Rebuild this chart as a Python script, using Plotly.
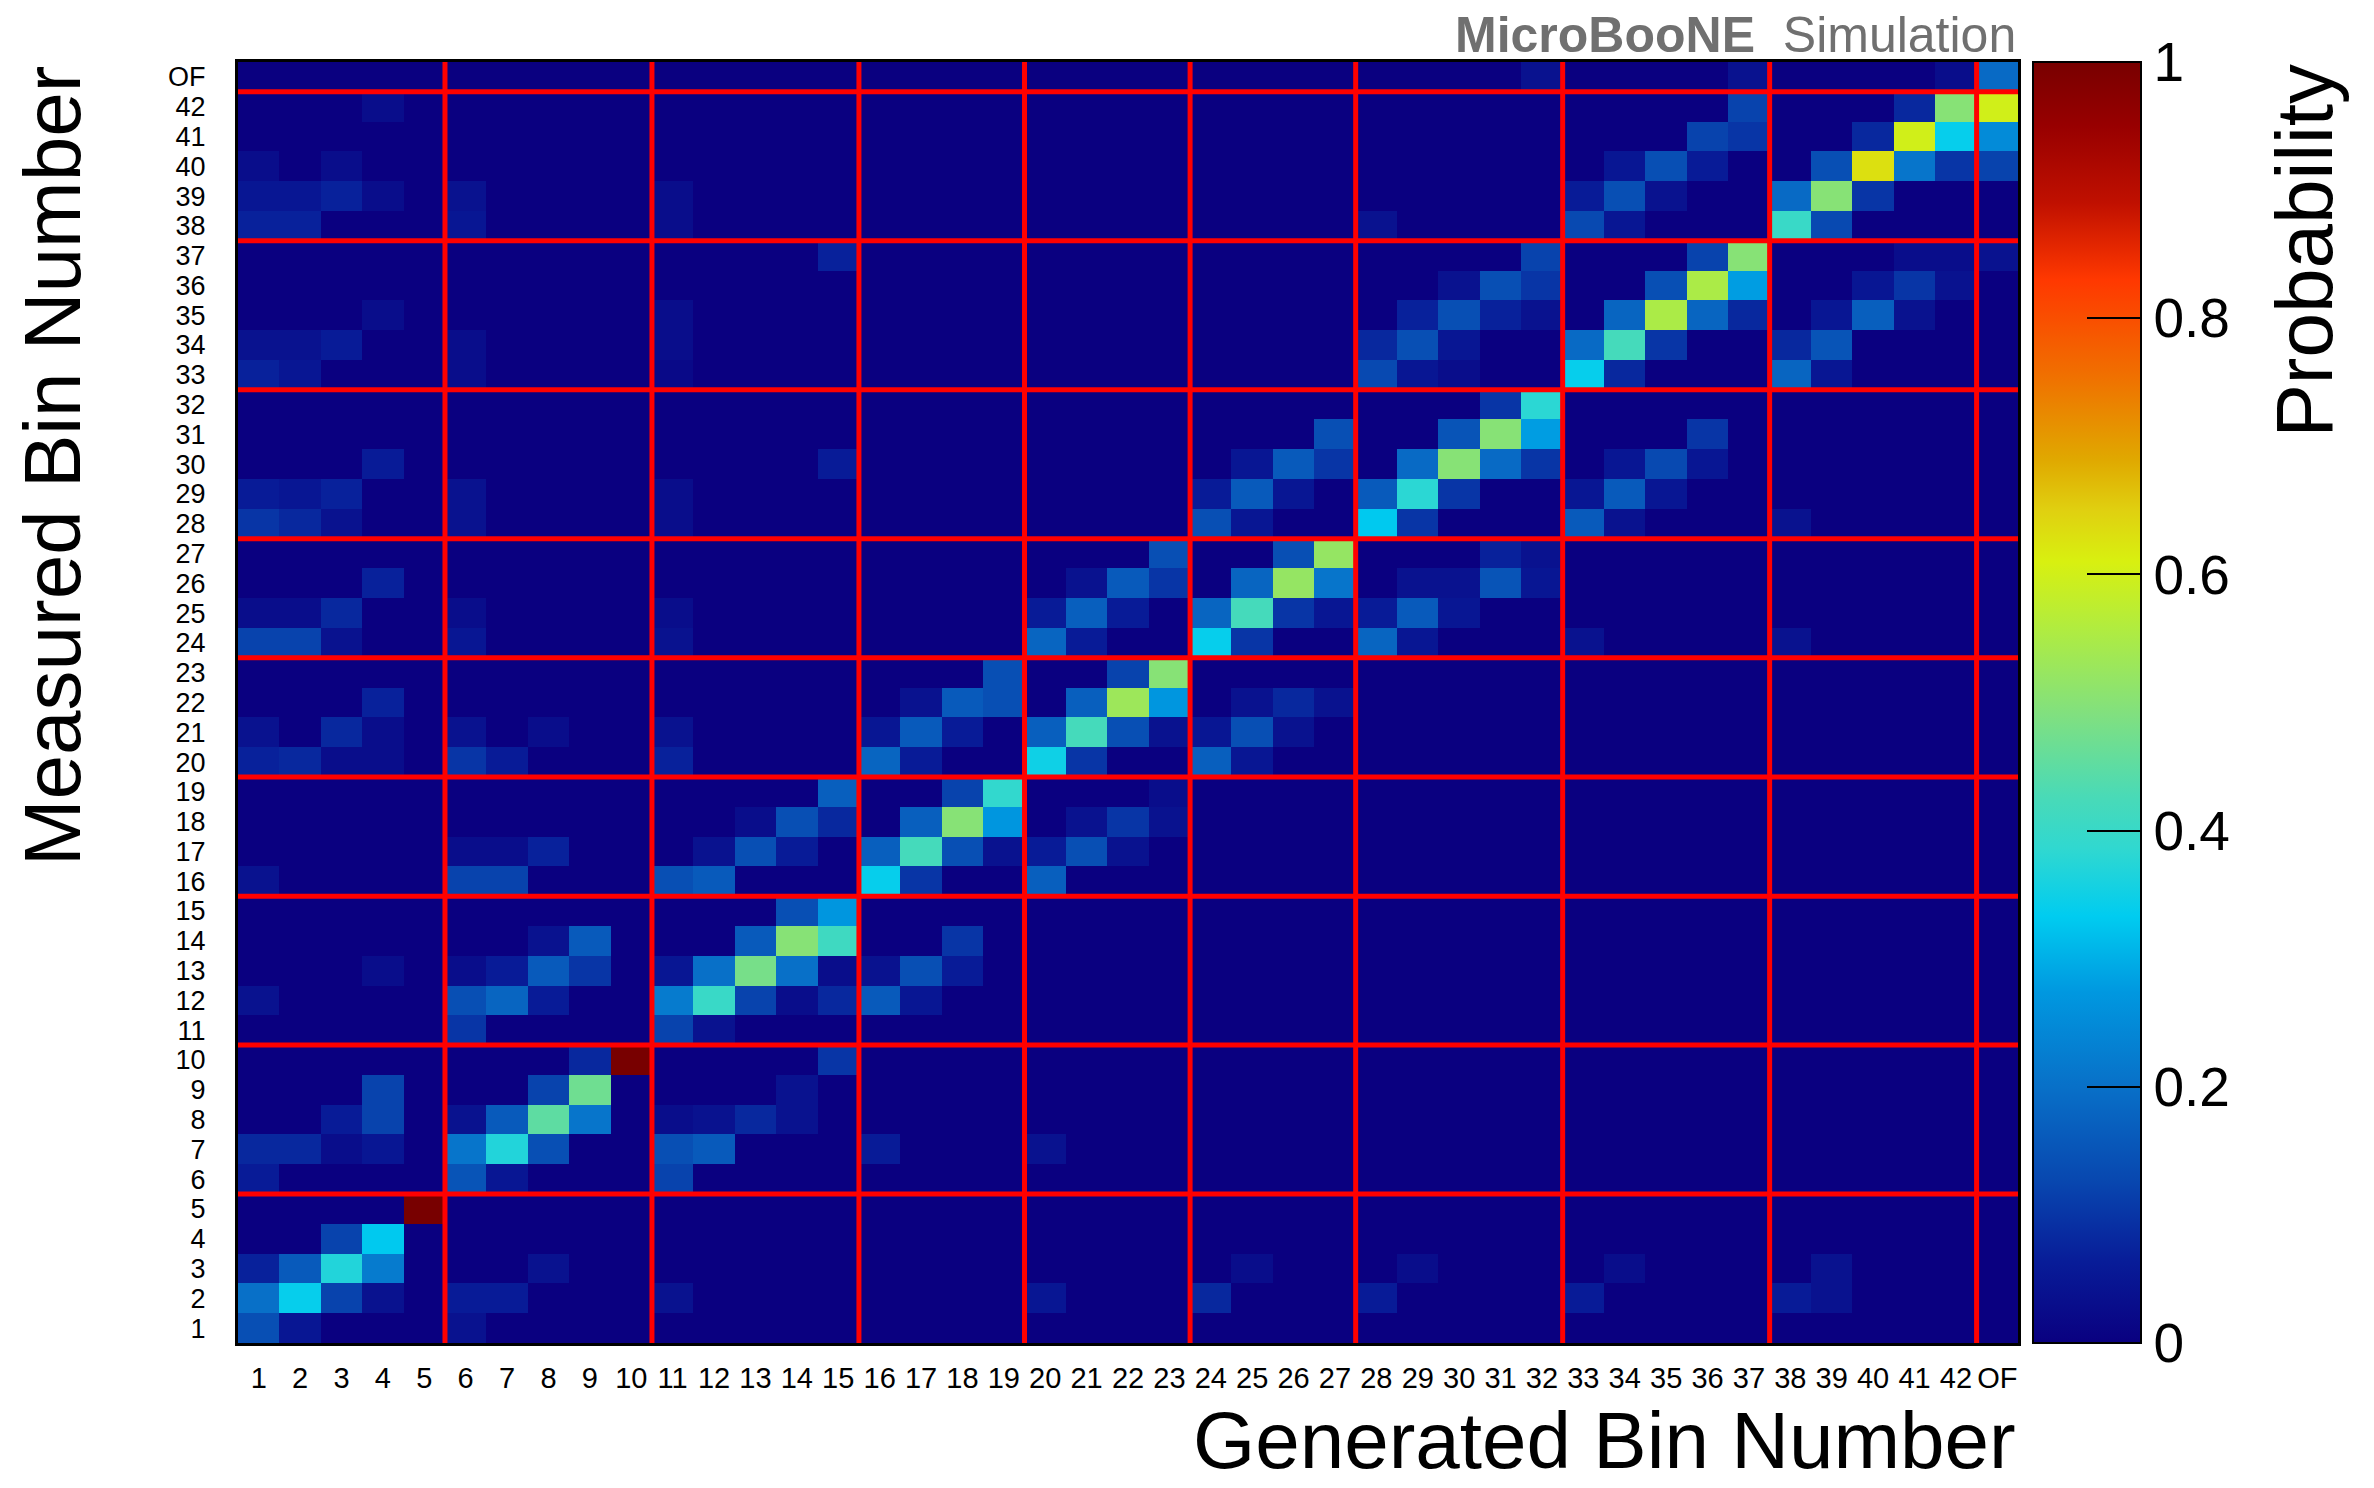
import plotly.graph_objects as go

# ---------------- data ----------------
bin_labels = ["1", "2", "3", "4", "5", "6", "7", "8", "9", "10",
              "11", "12", "13", "14", "15", "16", "17", "18", "19", "20",
              "21", "22", "23", "24", "25", "26", "27", "28", "29", "30",
              "31", "32", "33", "34", "35", "36", "37", "38", "39", "40",
              "41", "42", "OF"]

# block boundaries (red lines) between generated / measured bins
block_edges = [5.5, 10.5, 15.5, 19.5, 23.5, 27.5, 32.5, 37.5, 42.5]

# non-zero cells, one entry per measured bin (1 ... 42, OF)
generated_by_row = [
    [1, 2, 6],                                              # 1
    [1, 2, 3, 4, 6, 7, 11, 20, 24, 28, 33, 38, 39],         # 2
    [1, 2, 3, 4, 8, 25, 29, 34, 39],                        # 3
    [3, 4],                                                 # 4
    [5],                                                    # 5
    [1, 6, 7, 11],                                          # 6
    [1, 2, 3, 4, 6, 7, 8, 11, 12, 16, 20],                  # 7
    [3, 4, 6, 7, 8, 9, 11, 12, 13, 14],                     # 8
    [4, 8, 9, 14],                                          # 9
    [9, 10, 15],                                            # 10
    [6, 11, 12],                                            # 11
    [1, 6, 7, 8, 11, 12, 13, 14, 15, 16, 17],               # 12
    [4, 6, 7, 8, 9, 11, 12, 13, 14, 15, 16, 17, 18],        # 13
    [8, 9, 13, 14, 15, 18],                                 # 14
    [14, 15],                                               # 15
    [1, 6, 7, 11, 12, 16, 17, 20],                          # 16
    [6, 7, 8, 12, 13, 14, 16, 17, 18, 19, 20, 21, 22],      # 17
    [13, 14, 15, 17, 18, 19, 21, 22, 23],                   # 18
    [15, 18, 19, 23],                                       # 19
    [1, 2, 3, 4, 6, 7, 11, 16, 17, 20, 21, 24, 25],         # 20
    [1, 3, 4, 6, 8, 11, 16, 17, 18, 20, 21, 22, 23, 24, 25, 26],  # 21
    [4, 17, 18, 19, 21, 22, 23, 25, 26, 27],                # 22
    [19, 22, 23],                                           # 23
    [1, 2, 3, 6, 11, 20, 21, 24, 25, 28, 29, 33, 38],       # 24
    [1, 2, 3, 6, 11, 20, 21, 22, 24, 25, 26, 27, 28, 29, 30],  # 25
    [4, 21, 22, 23, 25, 26, 27, 29, 30, 31, 32],            # 26
    [23, 26, 27, 31, 32],                                   # 27
    [1, 2, 3, 6, 11, 24, 25, 28, 29, 33, 34, 38],           # 28
    [1, 2, 3, 6, 11, 24, 25, 26, 28, 29, 30, 33, 34, 35],   # 29
    [4, 15, 25, 26, 27, 29, 30, 31, 32, 34, 35, 36],        # 30
    [27, 30, 31, 32, 36],                                   # 31
    [31, 32],                                               # 32
    [1, 2, 6, 11, 28, 29, 30, 33, 34, 38, 39],              # 33
    [1, 2, 3, 6, 11, 28, 29, 30, 33, 34, 35, 38, 39],       # 34
    [4, 11, 29, 30, 31, 32, 34, 35, 36, 37, 39, 40, 41],    # 35
    [30, 31, 32, 35, 36, 37, 40, 41, 42],                   # 36
    [15, 32, 36, 37, 41, 42, 43],                           # 37
    [1, 2, 6, 11, 28, 33, 34, 38, 39],                      # 38
    [1, 2, 3, 4, 6, 11, 33, 34, 35, 38, 39, 40],            # 39
    [1, 3, 34, 35, 36, 39, 40, 41, 42, 43],                 # 40
    [36, 37, 40, 41, 42, 43],                               # 41
    [4, 37, 41, 42, 43],                                    # 42
    [32, 37, 42, 43],                                       # OF
]

probability_by_row = [
    [0.14, 0.05, 0.04],
    [0.20, 0.34, 0.12, 0.04, 0.06, 0.06, 0.04, 0.05, 0.08, 0.06, 0.06, 0.06, 0.04],
    [0.07, 0.16, 0.37, 0.22, 0.04, 0.03, 0.03, 0.03, 0.04],
    [0.12, 0.33],
    [1.0],
    [0.06, 0.15, 0.05, 0.12],
    [0.08, 0.08, 0.03, 0.05, 0.21, 0.37, 0.14, 0.14, 0.16, 0.06, 0.04],
    [0.06, 0.12, 0.04, 0.16, 0.45, 0.21, 0.03, 0.04, 0.08, 0.04],
    [0.12, 0.12, 0.47, 0.04],
    [0.08, 1.0, 0.10],
    [0.10, 0.12, 0.04],
    [0.04, 0.14, 0.18, 0.06, 0.22, 0.40, 0.12, 0.03, 0.08, 0.16, 0.05],
    [0.03, 0.03, 0.06, 0.16, 0.10, 0.05, 0.20, 0.48, 0.20, 0.03, 0.04, 0.14, 0.06],
    [0.04, 0.16, 0.16, 0.50, 0.41, 0.10],
    [0.14, 0.27],
    [0.04, 0.12, 0.12, 0.14, 0.16, 0.34, 0.10, 0.17],
    [0.03, 0.03, 0.07, 0.04, 0.14, 0.06, 0.17, 0.42, 0.14, 0.04, 0.06, 0.14, 0.04],
    [0.03, 0.14, 0.08, 0.17, 0.50, 0.27, 0.04, 0.10, 0.04],
    [0.17, 0.12, 0.39, 0.03],
    [0.07, 0.08, 0.03, 0.03, 0.10, 0.06, 0.07, 0.18, 0.06, 0.35, 0.10, 0.17, 0.05],
    [0.04, 0.08, 0.03, 0.04, 0.03, 0.04, 0.05, 0.16, 0.06, 0.17, 0.42, 0.14, 0.04, 0.05, 0.14, 0.04],
    [0.07, 0.04, 0.16, 0.14, 0.17, 0.53, 0.27, 0.04, 0.08, 0.04],
    [0.14, 0.12, 0.50],
    [0.12, 0.12, 0.04, 0.05, 0.04, 0.18, 0.06, 0.34, 0.10, 0.18, 0.05, 0.04, 0.04],
    [0.03, 0.03, 0.08, 0.03, 0.03, 0.06, 0.17, 0.06, 0.18, 0.42, 0.10, 0.05, 0.06, 0.16, 0.05],
    [0.07, 0.04, 0.16, 0.10, 0.18, 0.52, 0.21, 0.04, 0.04, 0.15, 0.05],
    [0.14, 0.14, 0.52, 0.07, 0.04],
    [0.10, 0.08, 0.04, 0.04, 0.03, 0.14, 0.05, 0.33, 0.10, 0.16, 0.04, 0.04],
    [0.06, 0.05, 0.07, 0.04, 0.03, 0.06, 0.16, 0.05, 0.16, 0.38, 0.10, 0.05, 0.16, 0.05],
    [0.06, 0.06, 0.05, 0.16, 0.10, 0.19, 0.50, 0.19, 0.10, 0.05, 0.13, 0.05],
    [0.14, 0.15, 0.50, 0.28, 0.10],
    [0.10, 0.38],
    [0.07, 0.05, 0.03, 0.02, 0.13, 0.05, 0.03, 0.34, 0.08, 0.18, 0.05],
    [0.04, 0.04, 0.06, 0.03, 0.03, 0.08, 0.14, 0.05, 0.19, 0.42, 0.10, 0.08, 0.15],
    [0.03, 0.03, 0.07, 0.14, 0.07, 0.04, 0.18, 0.55, 0.18, 0.08, 0.05, 0.17, 0.04],
    [0.04, 0.14, 0.10, 0.14, 0.55, 0.28, 0.05, 0.10, 0.04],
    [0.07, 0.12, 0.12, 0.50, 0.03, 0.03, 0.04],
    [0.07, 0.07, 0.05, 0.03, 0.04, 0.13, 0.05, 0.40, 0.13],
    [0.05, 0.05, 0.07, 0.03, 0.04, 0.03, 0.06, 0.14, 0.04, 0.19, 0.50, 0.10],
    [0.03, 0.03, 0.05, 0.14, 0.06, 0.14, 0.63, 0.21, 0.10, 0.12],
    [0.12, 0.10, 0.08, 0.60, 0.34, 0.25],
    [0.03, 0.12, 0.08, 0.50, 0.60],
    [0.04, 0.04, 0.03, 0.19],
]

colorbar_tickvals = [0, 0.2, 0.4, 0.6, 0.8, 1.0]
colorbar_ticktext = ["0", "0.2", "0.4", "0.6", "0.8", "1"]

# ---------------- build matrix ----------------
n_bins = len(bin_labels)
bin_positions = list(range(1, n_bins + 1))
z = [[0.0] * n_bins for _ in range(n_bins)]
for r, (gens, probs) in enumerate(zip(generated_by_row, probability_by_row)):
    assert len(gens) == len(probs), r
    for g, p in zip(gens, probs):
        z[r][g - 1] = p

# ROOT-like rainbow palette
colorscale = [
    [0.000, "rgb(10,0,128)"],
    [0.063, "rgb(8,28,152)"],
    [0.128, "rgb(8,72,176)"],
    [0.200, "rgb(8,112,200)"],
    [0.274, "rgb(0,152,224)"],
    [0.333, "rgb(0,204,240)"],
    [0.386, "rgb(48,216,208)"],
    [0.425, "rgb(72,218,184)"],
    [0.490, "rgb(128,224,128)"],
    [0.557, "rgb(176,236,64)"],
    [0.610, "rgb(216,240,16)"],
    [0.650, "rgb(224,208,16)"],
    [0.690, "rgb(224,168,0)"],
    [0.755, "rgb(240,112,0)"],
    [0.830, "rgb(255,56,0)"],
    [0.890, "rgb(192,16,0)"],
    [0.950, "rgb(152,0,0)"],
    [1.000, "rgb(120,0,0)"],
]

FONT = "Liberation Sans, Arial, Helvetica, sans-serif"

fig = go.Figure(
    go.Heatmap(
        z=z,
        x=bin_positions,
        y=bin_positions,
        zmin=0,
        zmax=1,
        colorscale=colorscale,
        xgap=0,
        ygap=0,
        colorbar=dict(
            x=1.0084,
            xanchor="left",
            y=0.5,
            yanchor="middle",
            len=1.0,
            lenmode="fraction",
            thickness=108,
            thicknessmode="pixels",
            xpad=0,
            ypad=0,
            outlinewidth=2,
            outlinecolor="black",
            ticks="inside",
            ticklen=55,
            tickwidth=2,
            tickcolor="black",
            tickvals=colorbar_tickvals,
            ticktext=colorbar_ticktext,
            tickfont=dict(size=55, color="black", family=FONT),
        ),
        hovertemplate="gen %{x}<br>meas %{y}<br>%{z}<extra></extra>",
    )
)

shapes = []
for e in block_edges:
    shapes.append(dict(type="line", xref="x", yref="y", x0=e, x1=e, y0=0.5, y1=n_bins + 0.5,
                       line=dict(color="#ff0000", width=5), layer="above"))
    shapes.append(dict(type="line", xref="x", yref="y", x0=0.5, x1=n_bins + 0.5, y0=e, y1=e,
                       line=dict(color="#ff0000", width=5), layer="above"))

axis_common = dict(
    range=[0.5, n_bins + 0.5],
    tickvals=bin_positions,
    ticktext=bin_labels,
    tickangle=0,
    showgrid=False,
    zeroline=False,
    showline=True,
    mirror=True,
    linecolor="black",
    linewidth=3,
    ticks="",
)

fig.update_layout(
    width=2374,
    height=1488,
    margin=dict(l=238, r=356, t=62, b=145),
    paper_bgcolor="white",
    plot_bgcolor="white",
    font=dict(family=FONT, color="black"),
    xaxis=dict(axis_common, ticklabelstandoff=7,
               tickfont=dict(size=29, color="black", family=FONT)),
    yaxis=dict(axis_common, ticklabelstandoff=24,
               tickfont=dict(size=27, color="black", family=FONT)),
    shapes=shapes,
    annotations=[
        dict(text="Generated Bin Number", xref="paper", yref="paper", x=1.0, y=-0.1125,
             xanchor="right", yanchor="bottom", showarrow=False,
             font=dict(size=80, color="black", family=FONT)),
        dict(text="Measured Bin Number", xref="paper", yref="paper", x=-0.1045, y=0.6846,
             xanchor="center", yanchor="middle", textangle=-90, showarrow=False,
             font=dict(size=80, color="black", family=FONT)),
        dict(text="Probability", xref="paper", yref="paper", x=1.161, y=0.8525,
             xanchor="center", yanchor="middle", textangle=-90, showarrow=False,
             font=dict(size=80, color="black", family=FONT)),
        dict(text="<b>MicroBooNE</b>\u00a0\u00a0Simulation", xref="paper", yref="paper",
             x=1.0, y=1.021, xanchor="right", yanchor="middle", showarrow=False,
             font=dict(size=50, color="#707070", family=FONT)),
    ],
)

fig.write_html("out.html")
